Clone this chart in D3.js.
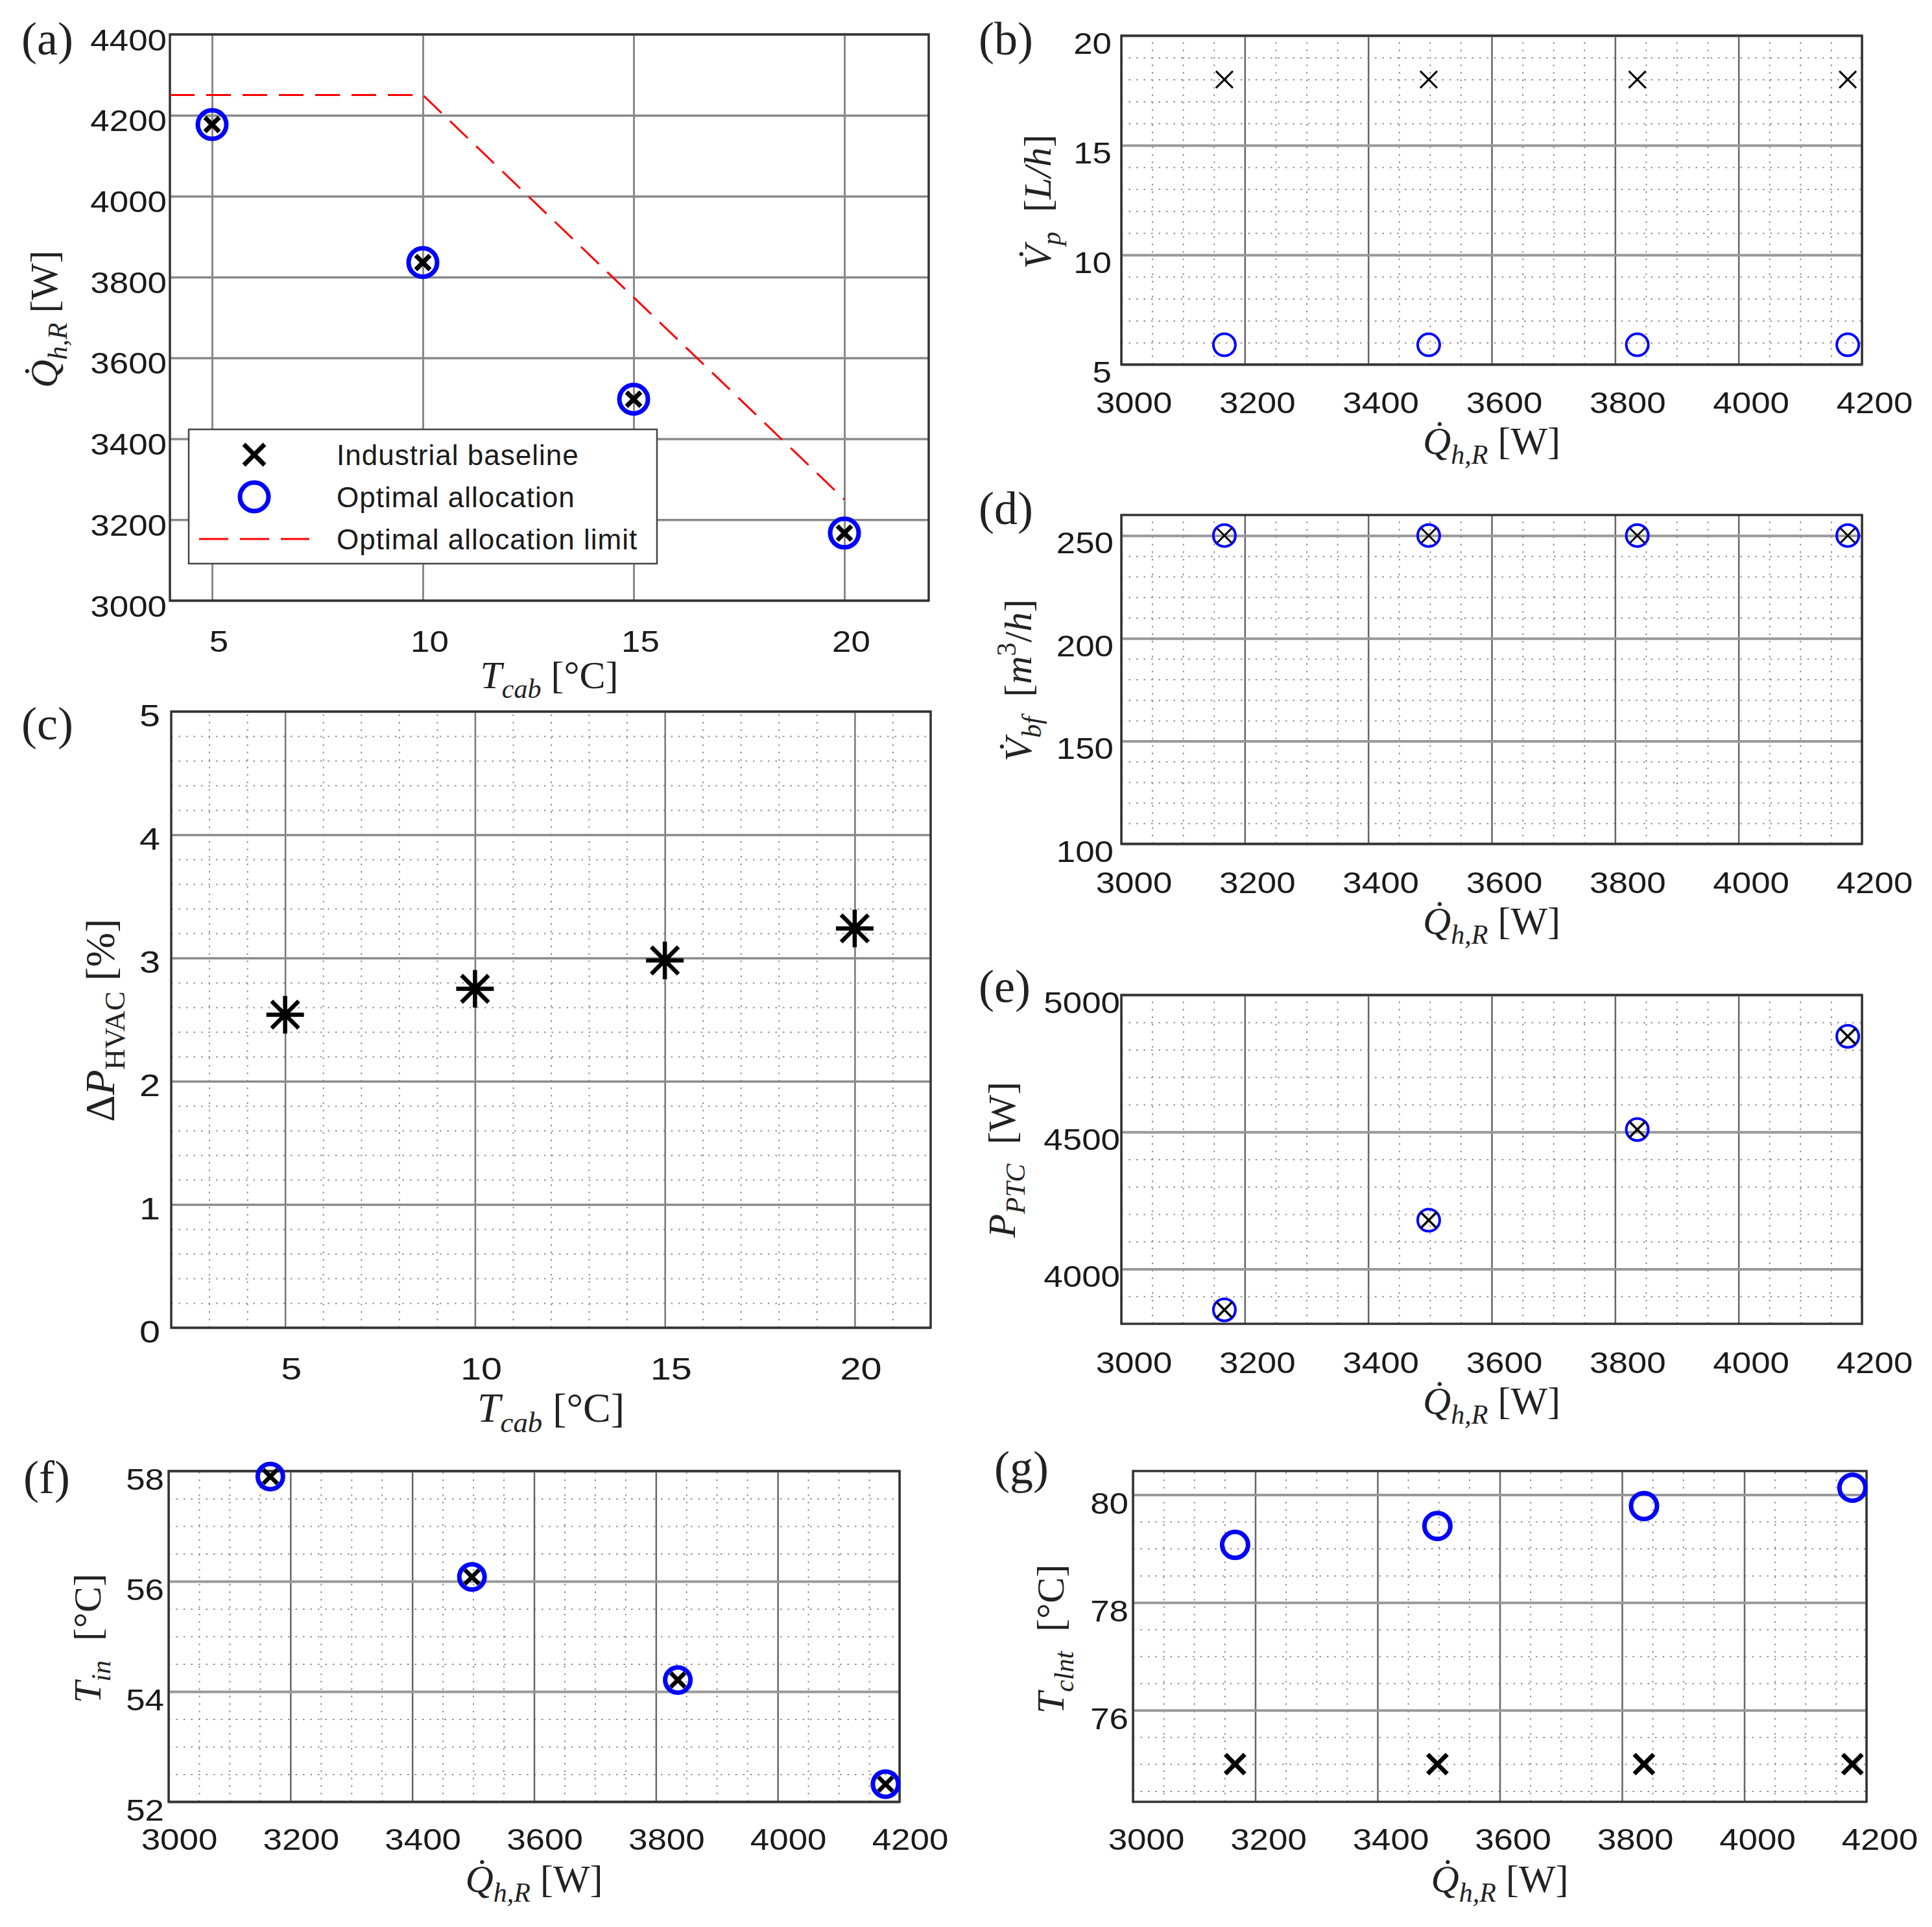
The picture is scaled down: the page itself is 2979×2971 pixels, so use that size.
<!DOCTYPE html>
<html><head><meta charset="utf-8">
<script src="https://cdn.jsdelivr.net/npm/d3@7"></script>
<style>body{margin:0;background:#fff} svg{display:block} text{white-space:pre}</style>
</head><body>
<svg id="chart" width="2979" height="2971"></svg>
<script>
// ---------------- data ----------------
const tcab = [5, 10, 15, 20];
const qhrBaseline = [4177, 3836, 3498, 3167];
const qhrOptimal = [4177, 3836, 3498, 3167];
const limitT = [4, 10, 20];
const limitQ = [4250, 4250, 3250];
const qhr = [3167, 3498, 3836, 4177];
const vpBaseline = [18, 18, 18, 18];
const vpOptimal = [5.9, 5.9, 5.9, 5.9];
const vbfBaseline = [250, 250, 250, 250];
const vbfOptimal = [250, 250, 250, 250];
const pptcBaseline = [3851, 4178, 4509, 4849];
const pptcOptimal = [3851, 4178, 4509, 4849];
const dPhvac = [2.54, 2.75, 2.98, 3.24];
const tinBaseline = [57.9, 56.08, 54.21, 52.32];
const tinOptimal = [57.9, 56.08, 54.21, 52.32];
const tclntBaseline = [75, 75, 75, 75];
const tclntOptimal = [79.07, 79.42, 79.79, 80.13];
const qTicks = [3000, 3200, 3400, 3600, 3800, 4000, 4200];
const tcabTicks = [5, 10, 15, 20];
const legendLabels = ["Industrial baseline", "Optimal allocation", "Optimal allocation limit"];

// ---------------- helpers ----------------
const svg = d3.select("#chart");
const BLUE = "#0000ff";

function rangeMinor(d, step, majors) {
  const out = [];
  const s = Math.ceil(d[0] / step - 1e-9) * step;
  for (let v = s; v <= d[1] + 1e-9; v += step) {
    const r = Math.round(v * 1000) / 1000;
    if (!majors.some(m => Math.abs(m - r) < 1e-6)) out.push(r);
  }
  return out;
}

function mathText(sel, parts, S) {
  let shift = 0;
  parts.forEach(p => {
    const target = p.sub ? S * 0.25 : (p.sup ? -S * 0.4 : 0);
    sel.append("tspan").text(p.t)
      .attr("dy", target - shift)
      .attr("font-size", (p.sub || p.sup) ? S * 0.7 : S)
      .attr("font-style", p.it ? "italic" : "normal");
    shift = target;
  });
}

const qLabel = [{t: "Q\u0307", it: 1}, {t: "h,R", it: 1, sub: 1}, {t: " [W]"}];
const tcabLabel = [{t: "T", it: 1}, {t: "cab", it: 1, sub: 1}, {t: " [°C]"}];

function panel(cfg) {
  const g = svg.append("g");
  const x = d3.scaleLinear().domain(cfg.xd).range([cfg.L, cfg.R]);
  const y = d3.scaleLinear().domain(cfg.yd).range([cfg.B, cfg.T]);
  const W = cfg.R - cfg.L, H = cfg.B - cfg.T;

  // minor grid
  if (cfg.xm) {
    g.append("g").attr("transform", `translate(0,${cfg.B})`)
      .call(d3.axisBottom(x).tickValues(rangeMinor(cfg.xd, cfg.xm, cfg.xt)).tickSize(-H).tickFormat(""))
      .call(a => a.select(".domain").remove())
      .selectAll("line").attr("stroke", "#8f8f8f").attr("stroke-width", 2).attr("stroke-dasharray", "2.5,9");
  }
  if (cfg.ym) {
    g.append("g").attr("transform", `translate(${cfg.L},0)`)
      .call(d3.axisLeft(y).tickValues(rangeMinor(cfg.yd, cfg.ym, cfg.yt)).tickSize(-W).tickFormat(""))
      .call(a => a.select(".domain").remove())
      .selectAll("line").attr("stroke", "#8f8f8f").attr("stroke-width", 2).attr("stroke-dasharray", "2.5,9");
  }
  // major grid
  g.append("g").attr("transform", `translate(0,${cfg.B})`)
    .call(d3.axisBottom(x).tickValues(cfg.xt).tickSize(-H).tickFormat(""))
    .call(a => a.select(".domain").remove())
    .selectAll("line").attr("stroke", cfg.vgc).attr("stroke-width", cfg.vgw);
  g.append("g").attr("transform", `translate(${cfg.L},0)`)
    .call(d3.axisLeft(y).tickValues(cfg.yt).tickSize(-W).tickFormat(""))
    .call(a => a.select(".domain").remove())
    .selectAll("line").attr("stroke", cfg.hgc).attr("stroke-width", cfg.hgw);

  // box
  g.append("rect").attr("x", cfg.L).attr("y", cfg.T).attr("width", W).attr("height", H)
    .attr("fill", "none").attr("stroke", "#333").attr("stroke-width", 3.5);

  // tick labels
  const fs = cfg.tfs, sx = cfg.tsx;
  g.append("g").attr("transform", `translate(0,${cfg.B})`)
    .call(d3.axisBottom(x).tickValues(cfg.xt).tickSize(0).tickPadding(0).tickFormat(d3.format("d")))
    .call(a => a.select(".domain").remove())
    .selectAll("text").attr("y", null).attr("dy", null)
    .attr("transform", `translate(${cfg.xdx},${cfg.xoff}) scale(${sx},1)`)
    .attr("font-family", "Liberation Sans, Arial, sans-serif").attr("font-size", fs).attr("fill", "#1a1a1a");
  g.append("g").attr("transform", `translate(${cfg.L},0)`)
    .call(d3.axisLeft(y).tickValues(cfg.yt).tickSize(0).tickPadding(0).tickFormat(d3.format("d")))
    .call(a => a.select(".domain").remove())
    .selectAll("text").attr("x", null).attr("dy", null)
    .attr("transform", `translate(${-cfg.ygap},${cfg.yoff}) scale(${sx},1)`)
    .attr("font-family", "Liberation Sans, Arial, sans-serif").attr("font-size", fs).attr("fill", "#1a1a1a");

  // axis titles
  const xl = g.append("text").attr("x", (cfg.L + cfg.R) / 2).attr("y", cfg.xlb)
    .attr("text-anchor", "middle").attr("font-family", "Liberation Serif, Times New Roman, serif").attr("fill", "#222");
  mathText(xl, cfg.xlabel, cfg.lfs);
  const yl = g.append("text").attr("transform", `translate(${cfg.ylb},${cfg.ylc}) rotate(-90)`)
    .attr("text-anchor", "middle").attr("font-family", "Liberation Serif, Times New Roman, serif").attr("fill", "#222");
  mathText(yl, cfg.ylabel, cfg.lfs);

  // panel letter
  g.append("text").attr("x", cfg.px).attr("y", cfg.py).text(`(${cfg.id})`)
    .attr("font-family", "Liberation Serif, Times New Roman, serif").attr("font-size", 72).attr("fill", "#222");

  return {g, x, y};
}

function drawCircles(p, xs, ys, r, w) {
  p.g.append("g").selectAll("circle").data(xs).join("circle")
    .attr("cx", (d, i) => p.x(d)).attr("cy", (d, i) => p.y(ys[i])).attr("r", r)
    .attr("fill", "none").attr("stroke", BLUE).attr("stroke-width", w);
}
function drawCrosses(p, xs, ys, h, w) {
  p.g.append("g").selectAll("path").data(xs).join("path")
    .attr("d", (d, i) => {
      const cx = p.x(d), cy = p.y(ys[i]);
      return `M${cx - h},${cy - h}L${cx + h},${cy + h}M${cx - h},${cy + h}L${cx + h},${cy - h}`;
    })
    .attr("stroke", "#000").attr("stroke-width", w).attr("fill", "none");
}
function drawStars(p, xs, ys, h, w) {
  const dd = h * 0.72;
  p.g.append("g").selectAll("path").data(xs).join("path")
    .attr("d", (d, i) => {
      const cx = p.x(d), cy = p.y(ys[i]);
      return `M${cx},${cy - h}L${cx},${cy + h}M${cx - h},${cy}L${cx + h},${cy}` +
        `M${cx - dd},${cy - dd}L${cx + dd},${cy + dd}M${cx - dd},${cy + dd}L${cx + dd},${cy - dd}`;
    })
    .attr("stroke", "#000").attr("stroke-width", w).attr("fill", "none");
}

const rightCommon = {xd: [3000, 4200], xt: qTicks, xm: 50, vgc: "#666", vgw: 2.5, hgc: "#999", hgw: 4,
  tfs: 46, tsx: 1.15, xdx: 19, xoff: 75, xlabel: qLabel, lfs: 60};

// ---------------- (a) ----------------
const pa = panel({id: "a", L: 262, R: 1432, T: 53, B: 926, xd: [4, 22], yd: [3000, 4400],
  xt: tcabTicks, yt: d3.range(3000, 4401, 200), xm: null, ym: null,
  vgc: "#8a8a8a", vgw: 3, hgc: "#8a8a8a", hgw: 3.5,
  tfs: 46, tsx: 1.15, xdx: 10, xoff: 79, ygap: 5, yoff: 24,
  xlabel: tcabLabel, ylabel: qLabel, lfs: 60, xlb: 1061, ylb: 88, ylc: 492, px: 33, py: 84});
pa.g.append("path").datum(limitT)
  .attr("d", d3.line().x(d => pa.x(d)).y((d, i) => pa.y(limitQ[i])))
  .attr("fill", "none").attr("stroke", "#ff0000").attr("stroke-width", 3).attr("stroke-dasharray", "38,18");
drawCircles(pa, tcab, qhrOptimal, 22, 7);
drawCrosses(pa, tcab, qhrBaseline, 11, 7);
// legend
const lg = pa.g.append("g");
lg.append("rect").attr("x", 291).attr("y", 662).attr("width", 722).attr("height", 207)
  .attr("fill", "#fff").attr("stroke", "#444").attr("stroke-width", 2.5);
const rowY = [701, 766, 831];
lg.append("path").attr("d", `M${392 - 16},${rowY[0] - 16}L${392 + 16},${rowY[0] + 16}M${392 - 16},${rowY[0] + 16}L${392 + 16},${rowY[0] - 16}`)
  .attr("stroke", "#000").attr("stroke-width", 7);
lg.append("circle").attr("cx", 392).attr("cy", rowY[1]).attr("r", 22).attr("fill", "none").attr("stroke", BLUE).attr("stroke-width", 7);
lg.append("line").attr("x1", 307).attr("x2", 477).attr("y1", rowY[2]).attr("y2", rowY[2])
  .attr("stroke", "#ff0000").attr("stroke-width", 3).attr("stroke-dasharray", "45,18");
lg.selectAll("text").data(legendLabels).join("text")
  .attr("x", 519).attr("y", (d, i) => rowY[i]).attr("dy", "0.36em").text(d => d)
  .attr("font-family", "Liberation Sans, Arial, sans-serif").attr("font-size", 44)
  .attr("letter-spacing", 1).attr("fill", "#1a1a1a");

// ---------------- (b) ----------------
const pb = panel(Object.assign({}, rightCommon, {id: "b", L: 1729, R: 2871, T: 55, B: 562, yd: [5, 20],
  yt: [5, 10, 15, 20], ym: 1, ygap: 15, yoff: 27, xlb: 700,
  ylabel: [{t: "V\u0307", it: 1}, {t: "p", it: 1, sub: 1}, {t: "  ["}, {t: "L/h", it: 1}, {t: "]"}],
  ylb: 1620, ylc: 311, px: 1509, py: 84}));
drawCircles(pb, qhr, vpOptimal, 17, 4);
drawCrosses(pb, qhr, vpBaseline, 13, 3);

// ---------------- (c) ----------------
const pc = panel({id: "c", L: 264, R: 1435, T: 1097, B: 2047, xd: [2, 22], yd: [0, 5],
  xt: tcabTicks, yt: [0, 1, 2, 3, 4, 5], xm: 1, ym: 0.2,
  vgc: "#777", vgw: 2.5, hgc: "#8a8a8a", hgw: 3.5,
  tfs: 48, tsx: 1.2, xdx: 9, xoff: 80, ygap: 17, yoff: 22,
  xlabel: tcabLabel, ylabel: [{t: "Δ"}, {t: "P", it: 1}, {t: "HVAC", sub: 1}, {t: " [%]"}],
  lfs: 64, xlb: 2192, ylb: 176, ylc: 1573, px: 33, py: 1140});
drawStars(pc, tcab, dPhvac, 29, 6.5);

// ---------------- (d) ----------------
const pd = panel(Object.assign({}, rightCommon, {id: "d", L: 1729, R: 2871, T: 794, B: 1301, yd: [100, 260],
  yt: [100, 150, 200, 250], ym: 10, ygap: 12, yoff: 27, xoff: 76, xlb: 1440,
  ylabel: [{t: "V\u0307", it: 1}, {t: "bf", it: 1, sub: 1}, {t: "  ["}, {t: "m", it: 1}, {t: "3", sup: 1}, {t: "/"}, {t: "h", it: 1}, {t: "]"}],
  ylb: 1590, ylc: 1049, px: 1509, py: 808}));
drawCircles(pd, qhr, vbfOptimal, 17, 4);
drawCrosses(pd, qhr, vbfBaseline, 11, 3);

// ---------------- (e) ----------------
const pe = panel(Object.assign({}, rightCommon, {id: "e", L: 1729, R: 2871, T: 1534, B: 2041, yd: [3800, 5000],
  yt: [4000, 4500, 5000], ym: 100, ygap: 2, yoff: 27, xoff: 76, xlb: 2180,
  ylabel: [{t: "P", it: 1}, {t: "PTC", it: 1, sub: 1}, {t: "  [W]"}],
  ylb: 1565, ylc: 1788, px: 1509, py: 1545}));
drawCircles(pe, qhr, pptcOptimal, 17, 4);
drawCrosses(pe, qhr, pptcBaseline, 12, 3.5);

// ---------------- (f) ----------------
const pf = panel(Object.assign({}, rightCommon, {id: "f", L: 260, R: 1387, T: 2268, B: 2778, yd: [52, 58],
  yt: [52, 54, 56, 58], ym: 0.5, ygap: 7, yoff: 28, xdx: 16, xoff: 74, xlb: 2917,
  ylabel: [{t: "T", it: 1}, {t: "in", it: 1, sub: 1}, {t: "  [°C]"}],
  ylb: 155, ylc: 2526, px: 36, py: 2302}));
drawCircles(pf, qhr, tinOptimal, 19.5, 7);
drawCrosses(pf, qhr, tinBaseline, 11, 6.5);

// ---------------- (g) ----------------
const pg = panel(Object.assign({}, rightCommon, {id: "g", L: 1747, R: 2878, T: 2268, B: 2778, yd: [74.3, 80.44],
  yt: [76, 78, 80], ym: 0.5, ygap: 7, yoff: 29, xdx: 20, xoff: 74, xlb: 2917,
  ylabel: [{t: "T", it: 1}, {t: "clnt", it: 1, sub: 1}, {t: "  [°C]"}],
  ylb: 1640, ylc: 2527, px: 1533, py: 2287}));
drawCircles(pg, qhr, tclntOptimal, 20, 7);
drawCrosses(pg, qhr, tclntBaseline, 15, 7);
</script>
</body></html>
